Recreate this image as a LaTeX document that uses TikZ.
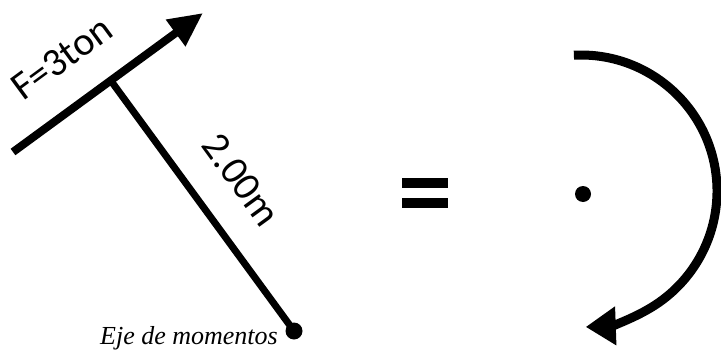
\documentclass[tikz,border=0pt]{standalone}
\usepackage{fontspec}
\setmainfont{Liberation Serif}
\newfontfamily\calib{Carlito}
\usetikzlibrary{arrows.meta,calc}
\begin{document}
\begin{tikzpicture}[x=1pt,y=-1pt,
  bigdot/.style={circle,fill=black,inner sep=0pt,minimum size=#1},
  bar/.style={fill=black,inner sep=0pt,minimum width=46pt,minimum height=10pt},
  lbl/.style={font=\calib\fontsize{40}{40}\selectfont,inner sep=0pt}]
\useasboundingbox (0,0) rectangle (721,351);
% force
\coordinate (fs) at (13,152);
\coordinate (ft) at (203,13);
\draw[line width=8pt,-{Triangle[length=34pt,width=31pt]}] (fs) -- (ft);
\node[bigdot=17pt] (eje) at (294,331) {};
\coordinate (foot) at ($(fs)!(eje.center)!(ft)$);
\draw[line width=7pt] (foot) -- (eje.center);
\node[lbl,rotate=36.3] (flabel) at (62,58) {F=3ton};
\node[lbl,rotate=-54] (dlabel) at (241,180) {2.00m};
\node[font=\itshape\fontsize{26}{26}\selectfont,anchor=base east,inner sep=0pt] (ejelabel) at (278,344) {Eje de momentos};
% equal sign
\node[bar] (eq1) at (425,183) {};
\node[bar] (eq2) at (425,203) {};
% moment
\node[bigdot=16pt] (c) at (583,194) {};
\coordinate (as) at (573.9,55.2);
\draw[line width=9pt,-{Triangle[length=30pt,width=37pt]}] (as) arc[start angle=93,end angle=-88,radius=136pt];
\end{tikzpicture}
\end{document}
